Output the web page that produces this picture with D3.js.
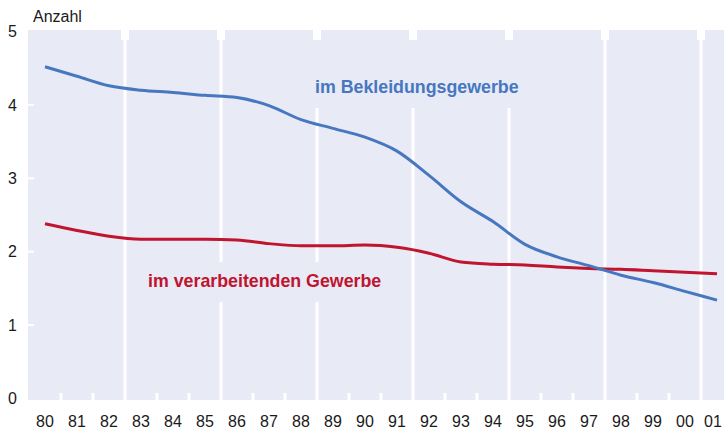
<!DOCTYPE html>
<html>
<head>
<meta charset="utf-8">
<script src="https://cdn.jsdelivr.net/npm/d3@7"></script>
<style>
  body { margin: 0; background: #fff; }
  text { font-family: "Liberation Sans", Arial, sans-serif; }
</style>
</head>
<body>
<div id="chart"></div>
<script>
  const years = ['80', '81', '82', '83', '84', '85', '86', '87', '88', '89', '90',
    '91', '92', '93', '94', '95', '96', '97', '98', '99', '00', '01'];
  // Anzahl im Bekleidungsgewerbe
  const bekleidung = [4.52, 4.39, 4.26, 4.20, 4.17, 4.13, 4.10, 3.99, 3.80, 3.68, 3.56,
    3.37, 3.04, 2.68, 2.41, 2.10, 1.93, 1.81, 1.68, 1.58, 1.46, 1.34];
  // Anzahl im verarbeitenden Gewerbe
  const verarbeitend = [2.38, 2.29, 2.21, 2.17, 2.17, 2.17, 2.16, 2.11, 2.08, 2.08, 2.09,
    2.06, 1.98, 1.86, 1.83, 1.82, 1.79, 1.77, 1.76, 1.74, 1.72, 1.70];
  const yTicks = [0, 1, 2, 3, 4, 5];

  const width = 724;
  const height = 432;
  const area = { left: 28, top: 30, bottom: 400, right: 724 };

  const svg = d3.select('#chart').append('svg')
    .attr('width', width)
    .attr('height', height);

  const x = d3.scaleBand().domain(years).range([29, 29 + 32 * years.length]);
  const y = d3.scaleLinear().domain([0, 5]).range([398.5, 31.5]);

  // plot background
  svg.append('rect')
    .attr('x', area.left).attr('y', area.top)
    .attr('width', area.right - area.left).attr('height', area.bottom - area.top)
    .attr('fill', '#e8eaf6');

  // separators every three years, short notches for the other years
  const bounds = years.slice(1);
  bounds.forEach((yr, i) => {
    const bx = x(yr);
    if ((i + 1) % 3 === 0) {
      svg.append('rect').attr('x', bx - 1.5).attr('y', area.top)
        .attr('width', 3).attr('height', area.bottom - area.top).attr('fill', '#fff');
      svg.append('rect').attr('x', bx - 4).attr('y', area.top)
        .attr('width', 8).attr('height', 10).attr('fill', '#fff');
    } else {
      svg.append('rect').attr('x', bx - 1.5).attr('y', area.bottom - 7)
        .attr('width', 3).attr('height', 7).attr('fill', '#fff');
    }
  });

  // y ticks
  svg.selectAll('.ytick').data(yTicks.filter((d) => d > 0 && d < 5)).join('rect')
    .attr('x', area.left).attr('y', (d) => y(d) - 1)
    .attr('width', 6).attr('height', 2).attr('fill', '#fff');

  svg.selectAll('.ylab').data(yTicks).join('text')
    .attr('x', 17).attr('y', (d) => y(d))
    .attr('dy', '0.35em').attr('text-anchor', 'end')
    .attr('font-size', 16).attr('fill', '#1a1a1a')
    .text((d) => d);

  svg.append('text').attr('x', 33).attr('y', 22)
    .attr('font-size', 16).attr('fill', '#1a1a1a').text('Anzahl');

  svg.selectAll('.xlab').data(years).join('text')
    .attr('x', (d) => Math.min(x(d) + x.bandwidth() / 2, 713)).attr('y', 421)
    .attr('dy', '0.35em').attr('text-anchor', 'middle')
    .attr('font-size', 16).attr('fill', '#1a1a1a')
    .text((d) => d);

  // label boxes hide the separators behind the labels
  svg.append('rect').attr('x', 300).attr('y', 40).attr('width', 225).attr('height', 68)
    .attr('fill', '#e8eaf6');
  svg.append('rect').attr('x', 140).attr('y', 262).attr('width', 250).attr('height', 40)
    .attr('fill', '#e8eaf6');

  const line = d3.line()
    .x((d, i) => x(years[i]) + x.bandwidth() / 2)
    .y((d) => y(d))
    .curve(d3.curveMonotoneX);

  svg.append('path').datum(verarbeitend)
    .attr('d', line).attr('fill', 'none')
    .attr('stroke', '#c0142f').attr('stroke-width', 3);
  svg.append('path').datum(bekleidung)
    .attr('d', line).attr('fill', 'none')
    .attr('stroke', '#4677bf').attr('stroke-width', 3);

  svg.append('text').attr('x', 315).attr('y', 87).attr('dy', '0.35em')
    .attr('font-size', 17.8).attr('font-weight', 'bold').attr('fill', '#4677bf')
    .text('im Bekleidungsgewerbe');
  svg.append('text').attr('x', 148).attr('y', 281).attr('dy', '0.35em')
    .attr('font-size', 17.8).attr('font-weight', 'bold').attr('fill', '#c0142f')
    .text('im verarbeitenden Gewerbe');
</script>
</body>
</html>
